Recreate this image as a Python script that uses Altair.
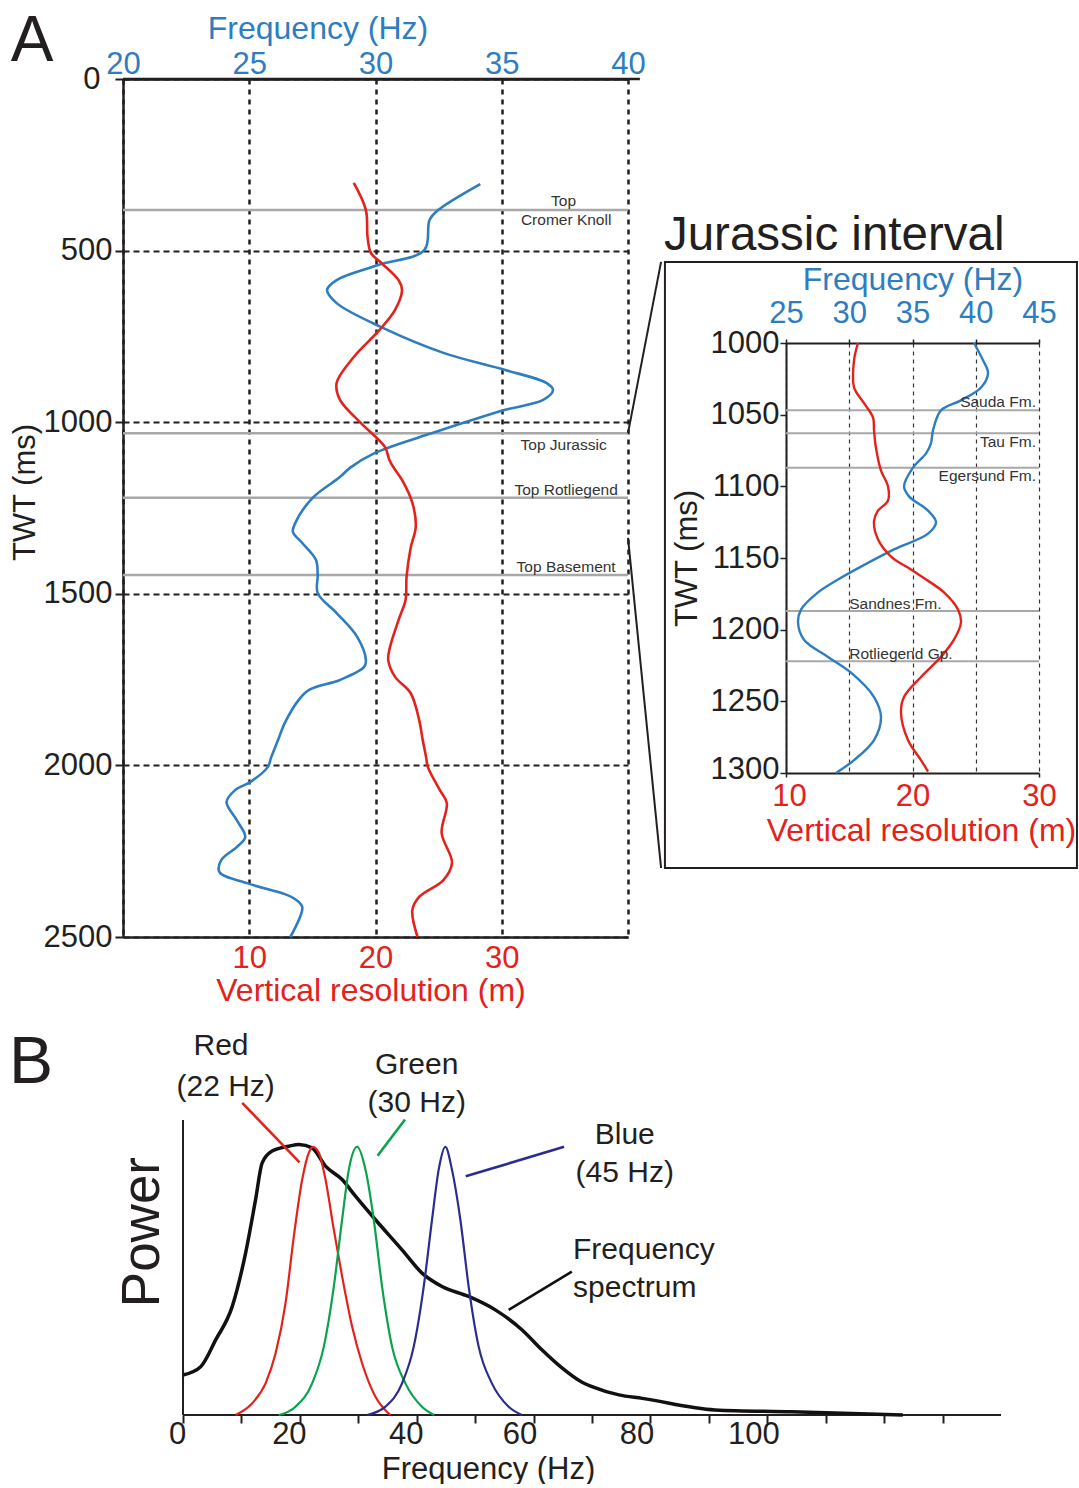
import altair as alt
import pandas as pd

FONT = "Liberation Sans"
BLUE = "#2e7dc0"
RED = "#e3221c"
GRAY = "#a8a8a8"
INK = "#231f20"

# ---------------- Panel A data ----------------
tA_blue = [306, 382, 411, 498, 542, 586, 615, 653, 723, 798, 848, 886, 906, 935, 964, 1031, 1090,
           1133, 1160, 1221, 1294, 1320, 1352, 1401, 1445, 1498, 1556, 1626, 1693, 1713, 1751, 1780, 1809,
           1876, 1926, 1976, 2005, 2048, 2072, 2107, 2159, 2209, 2238, 2276, 2311, 2343, 2375, 2387, 2413, 2500]
fA_blue = [34.15, 32.48, 32.14, 31.94, 30.10, 28.46, 28.08, 28.46, 30.23, 32.69, 35.14, 36.78, 37.03, 36.64,
           35.14, 32.28, 29.96, 28.99, 28.59, 27.50, 26.82, 26.73, 27.10, 27.64, 27.71, 27.71, 28.46,
           29.28, 29.62, 29.55, 28.59, 27.37, 26.96, 26.41, 26.14, 25.87, 25.73, 25.05, 24.44, 24.10, 24.50,
           24.84, 24.50, 23.89, 23.82, 24.91, 26.41, 26.76, 27.10, 26.62]
tA_red = [303, 382, 460, 507, 536, 586, 615, 673, 731, 810, 886, 935, 1002, 1072, 1110, 1133, 1168, 1235,
          1305, 1367, 1451, 1518, 1576, 1655, 1693, 1742, 1789, 1868, 1926, 1976, 2005, 2072, 2110, 2197,
          2284, 2334, 2383, 2421, 2500]
rA_red = [18.28, 19.24, 19.37, 19.64, 20.47, 21.83, 22.10, 21.55, 20.32, 18.28, 16.92, 17.19, 18.83, 20.74,
          21.10, 21.45, 22.10, 22.92, 23.19, 22.78, 22.46, 22.38, 21.83, 21.15, 21.01, 21.55, 22.78, 23.46,
          23.74, 24.01, 24.15, 25.10, 25.65, 25.24, 26.06, 25.38, 23.46, 22.92, 23.33]
formA_t = [382, 1032, 1220, 1445]
labA_txt = ["Top", "Cromer Knoll", "Top Jurassic", "Top Rotliegend", "Top Basement"]
labA_t = [355, 411, 1066, 1197, 1421]
labA_f = [37.45, 37.55, 37.45, 37.55, 37.55]
connA_f1 = [40.0, 40.0]
connA_t1 = [1032, 1337]
connA_f2 = [41.31, 41.31]
connA_t2 = [533, 2299]
topline_f = [20.0]
topline_f2 = [40.47]
topline_t = [0]

# ---------------- Inset data ----------------
tI_blue = [1000, 1012, 1021, 1031, 1040, 1047, 1061, 1070, 1077, 1087, 1100, 1107, 1117, 1125, 1133, 1144,
           1156, 1165, 1174, 1186, 1195, 1207, 1219, 1230, 1247, 1261, 1277, 1291, 1300]
fI_blue = [39.86, 40.57, 40.97, 40.42, 38.83, 37.25, 36.62, 36.46, 36.07, 35.04, 34.33, 34.72, 36.23, 36.86,
           36.23, 33.54, 30.93, 29.11, 27.53, 26.19, 25.95, 26.42, 28.32, 30.14, 31.96, 32.51, 31.96, 30.38, 28.95]
tI_red = [1000, 1012, 1031, 1042, 1052, 1061, 1073, 1089, 1100, 1110, 1117, 1124, 1137, 1149, 1158, 1164,
          1174, 1186, 1195, 1207, 1219, 1233, 1247, 1258, 1277, 1291, 1299]
rI_red = [15.69, 15.38, 15.38, 16.17, 16.88, 16.96, 17.11, 17.51, 18.06, 18.06, 17.27, 16.96, 17.27, 18.30,
          19.88, 20.90, 22.49, 23.60, 23.83, 23.28, 22.25, 20.67, 19.33, 19.09, 19.64, 20.67, 21.23]
formI_t = [1047, 1063, 1087, 1187, 1222]
labI_right_txt = ["Sauda Fm.", "Tau Fm.", "Egersund Fm."]
labI_right_t = [1041, 1069, 1093]
labI_right_f = [44.76, 44.76, 44.76]
labI_left_txt = ["Sandnes Fm.", "Rotliegend Gp."]
labI_left_t = [1182, 1217]
labI_left_f = [30.0, 30.0]
box_f = [15.43, 48.0]
box_t = [943.5, 1366.3]

# ---------------- Panel B data ----------------
f_spec = [0, 3.03, 5.59, 8.43, 10.71, 12.42, 13.55, 15.26, 18.12, 19.83, 22.10, 24.39, 27.23, 29.52, 32.94,
          37.49, 40.91, 44.33, 48.89, 53.45, 58.0, 61.42, 64.6, 68.3, 70.0, 74.6, 78.6, 91.06, 104.2, 123.2]
p_spec = [0.149, 0.180, 0.280, 0.405, 0.604, 0.803, 0.940, 0.984, 1.002, 1.009, 0.996, 0.928, 0.878, 0.816,
          0.728, 0.616, 0.529, 0.479, 0.442, 0.392, 0.318, 0.243, 0.180, 0.122, 0.106, 0.075, 0.062, 0.019,
          0.012, 0.0]
f_red = [9.0, 11.85, 14.13, 15.85, 17.55, 18.97, 20.40, 21.54, 22.22, 23.25, 24.39, 25.81, 27.23, 28.94,
         30.65, 32.94, 35.5]
p_red = [0, 0.044, 0.118, 0.230, 0.417, 0.666, 0.878, 0.978, 1.0, 0.978, 0.878, 0.691, 0.517, 0.330, 0.193,
         0.068, 0]
f_green = [16.41, 19.26, 22.1, 24.1, 25.81, 27.23, 28.38, 29.8, 31.23, 32.65, 34.07, 35.78, 38.07, 40.9, 43.0]
p_green = [0, 0.031, 0.118, 0.255, 0.479, 0.728, 0.915, 1.0, 0.915, 0.728, 0.479, 0.255, 0.118, 0.031, 0]
f_navy = [31.5, 34.65, 37.49, 39.49, 41.2, 42.62, 43.76, 44.9, 46.03, 47.47, 48.89, 50.6, 52.87, 55.73, 58.0]
p_navy = [0, 0.031, 0.118, 0.255, 0.479, 0.728, 0.915, 1.0, 0.915, 0.728, 0.479, 0.255, 0.118, 0.031, 0]
ptr_f1 = [10.14, 38.0, 65.23, 66.55]
ptr_p1 = [1.164, 1.102, 1.0, 0.535]
ptr_f2 = [19.95, 33.3, 48.38, 55.73]
ptr_p2 = [0.942, 0.967, 0.890, 0.392]
ptr_col = ["#e3221c", "#0aa24c", "#2b2d8e", "#111111"]
labB_c_txt = ["Red", "(22 Hz)", "Green", "(30 Hz)", "Blue", "(45 Hz)"]
labB_c_f = [6.5, 7.3, 40.0, 40.0, 75.6, 75.6]
labB_c_p = [1.376, 1.223, 1.305, 1.163, 1.044, 0.902]
labB_l_txt = ["Frequency", "spectrum"]
labB_l_f = [66.75, 66.75]
labB_l_p = [0.615, 0.474]
axisB_f = [0, 0]
axisB_f2 = [140, 0]
axisB_p = [0, 0]
axisB_p2 = [0, 1.1]
powerB = {"f": [-6.85], "p": [0.682], "txt": ["Power"]}
letterB_pos = {"f": [-26.0], "p": [1.312], "txt": ["B"]}


def ax_common(**kw):
    base = dict(labelFont=FONT, titleFont=FONT, titleFontWeight="normal", domainColor=INK,
                tickColor=INK, labelFlush=False, labelOverlap=False)
    base.update(kw)
    return alt.Axis(**base)

# ================= Panel A =================
ysA = alt.Scale(domain=[0, 2500], reverse=True)
axA_y = ax_common(
    values=[0, 500, 1000, 1500, 2000, 2500], format="d", grid=True, gridDash=[6, 4], gridColor=INK,
    gridWidth=2, domainWidth=2.5, tickWidth=2, tickSize=8, labelFontSize=31, labelColor=INK,
    labelPadding={"condition": {"test": "datum.value == 0", "value": 15}, "value": 3},
    title="TWT (ms)", titleFontSize=31, titleColor=INK, titlePadding=2, titleY=413)
yA = alt.Y("t:Q", scale=ysA, axis=axA_y)
fsA = alt.Scale(domain=[20, 40])

formA = alt.Chart(pd.DataFrame({"t": formA_t})).mark_rule(color=GRAY, strokeWidth=2.5).encode(y=yA)
blueA = alt.Chart(pd.DataFrame({"t": tA_blue, "v": fA_blue})).mark_line(
    color=BLUE, strokeWidth=2.6, interpolate="catmull-rom").encode(
    x=alt.X("v:Q", scale=fsA, axis=ax_common(
        orient="top", values=[20, 25, 30, 35, 40], grid=True, gridDash=[5, 5], gridColor=INK, gridWidth=2.5,
        domainWidth=2.5, ticks=False, tickSize=0, labelFontSize=31, labelColor=BLUE, labelPadding=-1,
        title="Frequency (Hz)", titleFontSize=32, titleColor=BLUE, titlePadding=3, titleX=194.5)),
    y=yA, order="t:Q")
redA = alt.Chart(pd.DataFrame({"t": tA_red, "v": rA_red})).mark_line(
    color=RED, strokeWidth=2.6, interpolate="catmull-rom").encode(
    x=alt.X("v:Q", scale=alt.Scale(domain=[0, 40]), axis=ax_common(
        orient="bottom", values=[10, 20, 30], grid=False, ticks=False, domainWidth=2.5,
        labelFontSize=31, labelColor=RED, labelPadding=6,
        title="Vertical resolution (m)", titleFontSize=32, titleColor=RED, titlePadding=2, titleX=247.5)),
    y=yA, order="t:Q")
labA = alt.Chart(pd.DataFrame({"t": labA_t, "v": labA_f, "txt": labA_txt})).mark_text(
    font=FONT, fontSize=15.5, color="#333333").encode(
    x=alt.X("v:Q", scale=fsA, axis=None), y=yA, text="txt:N")
connA = alt.Chart(pd.DataFrame({"f1": connA_f1, "t": connA_t1, "f2": connA_f2, "t2": connA_t2})).mark_rule(
    color=INK, strokeWidth=2).encode(
    x=alt.X("f1:Q", scale=fsA, axis=None), x2="f2:Q", y=yA, y2="t2:Q")
toplineA = alt.Chart(pd.DataFrame({"f1": topline_f, "f2": topline_f2, "t": topline_t})).mark_rule(
    color=INK, strokeWidth=2.5).encode(
    x=alt.X("f1:Q", scale=fsA, axis=None), x2="f2:Q", y=yA)
letterA = alt.Chart(pd.DataFrame({"t": [-108], "v": [16.4], "txt": ["A"]})).mark_text(
    font=FONT, fontSize=64, color=INK).encode(
    x=alt.X("v:Q", scale=fsA, axis=None), y=yA, text="txt:N")

panelA = alt.layer(formA, blueA, redA, labA, connA, toplineA, letterA).resolve_scale(
    x="independent").properties(width=505, height=858)

# ================= Inset =================
ysI = alt.Scale(domain=[1000, 1300], reverse=True)
yI = alt.Y("t:Q", scale=ysI, axis=ax_common(
    values=[1000, 1050, 1100, 1150, 1200, 1250, 1300], format="d", grid=False, domainWidth=2, tickWidth=1.5,
    tickSize=6, labelFontSize=31, labelColor=INK, labelPadding=1,
    labelOffset={"condition": {"test": "datum.value == 1300", "value": -4}, "value": 0},
    title="TWT (ms)", titleFontSize=31, titleColor=INK, titlePadding=7))
fsI = alt.Scale(domain=[25, 45])

formI = alt.Chart(pd.DataFrame({"t": formI_t})).mark_rule(color=GRAY, strokeWidth=2).encode(y=yI)
blueI = alt.Chart(pd.DataFrame({"t": tI_blue, "v": fI_blue})).mark_line(
    color=BLUE, strokeWidth=2.4, interpolate="catmull-rom").encode(
    x=alt.X("v:Q", scale=fsI, axis=ax_common(
        orient="top", values=[25, 30, 35, 40, 45], grid=True, gridDash=[4, 4], gridColor="#333333",
        gridWidth=1.2, domainWidth=2, tickWidth=1.5, tickSize=4, labelFontSize=31, labelColor=BLUE,
        labelPadding=10, title="Frequency (Hz)", titleFontSize=32, titleColor=BLUE, titlePadding=1)),
    y=yI, order="t:Q")
redI = alt.Chart(pd.DataFrame({"t": tI_red, "v": rI_red})).mark_line(
    color=RED, strokeWidth=2.4, interpolate="catmull-rom").encode(
    x=alt.X("v:Q", scale=alt.Scale(domain=[10, 30]), axis=ax_common(
        orient="bottom", values=[10, 20, 30], grid=False, ticks=True, tickSize=4, tickWidth=1.5,
        domainWidth=2, labelFontSize=31, labelColor=RED, labelPadding=4,
        labelOffset={"condition": {"test": "datum.value == 10", "value": 3}, "value": 0},
        title="Vertical resolution (m)", titleFontSize=32, titleColor=RED, titlePadding=4, titleX=135)),
    y=yI, order="t:Q")
labIR = alt.Chart(pd.DataFrame({"t": labI_right_t, "v": labI_right_f, "txt": labI_right_txt})).mark_text(
    font=FONT, fontSize=15.5, color="#333333", align="right").encode(
    x=alt.X("v:Q", scale=fsI, axis=None), y=yI, text="txt:N")
labIL = alt.Chart(pd.DataFrame({"t": labI_left_t, "v": labI_left_f, "txt": labI_left_txt})).mark_text(
    font=FONT, fontSize=15.5, color="#333333", align="left").encode(
    x=alt.X("v:Q", scale=fsI, axis=None), y=yI, text="txt:N")
boxI = alt.Chart(pd.DataFrame({"f1": [box_f[0]], "f2": [box_f[1]], "t": [box_t[0]], "t2": [box_t[1]]})).mark_rect(
    fillOpacity=0, stroke=INK, strokeWidth=2).encode(
    x=alt.X("f1:Q", scale=fsI, axis=None), x2="f2:Q", y=yI, y2="t2:Q")
titleI = alt.Chart(pd.DataFrame({"t": [925], "v": [15.35], "txt": ["Jurassic interval"]})).mark_text(
    font=FONT, fontSize=47.5, color=INK, align="left").encode(
    x=alt.X("v:Q", scale=fsI, axis=None), y=yI, text="txt:N")

inset = alt.layer(boxI, formI, blueI, redI, labIR, labIL, titleI).resolve_scale(
    x="independent").properties(width=253, height=430)

spacer = alt.Chart(pd.DataFrame({"z": [0]})).mark_rule(strokeOpacity=0).encode(
    x=alt.value(0), y=alt.value(0), y2=alt.value(1)).properties(width=1, height=132)

right_col = alt.vconcat(spacer, inset, spacing=0)
top_row = alt.hconcat(panelA, right_col, spacing=0)

# ================= Panel B =================
xsB = alt.Scale(domain=[-10.27, 140])
ysB = alt.Scale(domain=[0, 1.1])
axB_x = ax_common(
    values=list(range(0, 140, 10)),
    labelExpr="datum.value % 20 == 0 && datum.value <= 100 ? datum.label : ''",
    grid=False, domain=False, tickWidth=2, tickSize=8, labelFontSize=31, labelColor=INK, labelPadding=-4,
    labelOffset={"condition": [{"test": "datum.value == 0", "value": -6},
                               {"test": "datum.value >= 60", "value": -14}], "value": -11},
    title="Frequency (Hz)", titleFontSize=31, titleColor=INK, titlePadding=5, titleX=365)
xB = alt.X("f:Q", scale=xsB, axis=axB_x)
yB = alt.Y("p:Q", scale=ysB, axis=None)

spec = alt.Chart(pd.DataFrame({"f": f_spec, "p": p_spec})).mark_line(
    color="#111111", strokeWidth=3.5, interpolate="monotone").encode(x=xB, y=yB)

def bell(fs, ps, col):
    return alt.Chart(pd.DataFrame({"f": fs, "p": ps})).mark_line(
        color=col, strokeWidth=2.2, interpolate="monotone").encode(x=xB, y=yB)

redB = bell(f_red, p_red, "#e3221c")
greenB = bell(f_green, p_green, "#0aa24c")
navyB = bell(f_navy, p_navy, "#2b2d8e")
axesB = alt.Chart(pd.DataFrame({"f": axisB_f, "f2": axisB_f2, "p": axisB_p, "p2": axisB_p2})).mark_rule(
    color=INK, strokeWidth=2).encode(x=xB, x2="f2:Q", y=yB, y2="p2:Q")
ptrB = alt.Chart(pd.DataFrame({"f": ptr_f1, "p": ptr_p1, "f2": ptr_f2, "p2": ptr_p2, "c": ptr_col})).mark_rule(
    strokeWidth=2.6).encode(x=xB, x2="f2:Q", y=yB, y2="p2:Q", color=alt.Color("c:N", scale=None))
labBc = alt.Chart(pd.DataFrame({"f": labB_c_f, "p": labB_c_p, "txt": labB_c_txt})).mark_text(
    font=FONT, fontSize=30, color=INK).encode(x=xB, y=yB, text="txt:N")
labBl = alt.Chart(pd.DataFrame({"f": labB_l_f, "p": labB_l_p, "txt": labB_l_txt})).mark_text(
    font=FONT, fontSize=30, color=INK, align="left").encode(x=xB, y=yB, text="txt:N")
powerT = alt.Chart(pd.DataFrame(powerB)).mark_text(
    font=FONT, fontSize=53, color=INK, angle=270).encode(x=xB, y=yB, text="txt:N")
letterB = alt.Chart(pd.DataFrame(letterB_pos)).mark_text(
    font=FONT, fontSize=66, color=INK).encode(x=xB, y=yB, text="txt:N")

panelB = alt.layer(axesB, spec, redB, greenB, navyB, ptrB, labBc, labBl, powerT, letterB).properties(
    width=878, height=295)

chart = alt.vconcat(top_row, panelB, spacing=24).properties(
    padding={"left": 9, "top": 9, "right": 0, "bottom": 0}
).configure_view(strokeWidth=0)

chart.save("out.html", embed_options={"renderer": "svg", "actions": False})
